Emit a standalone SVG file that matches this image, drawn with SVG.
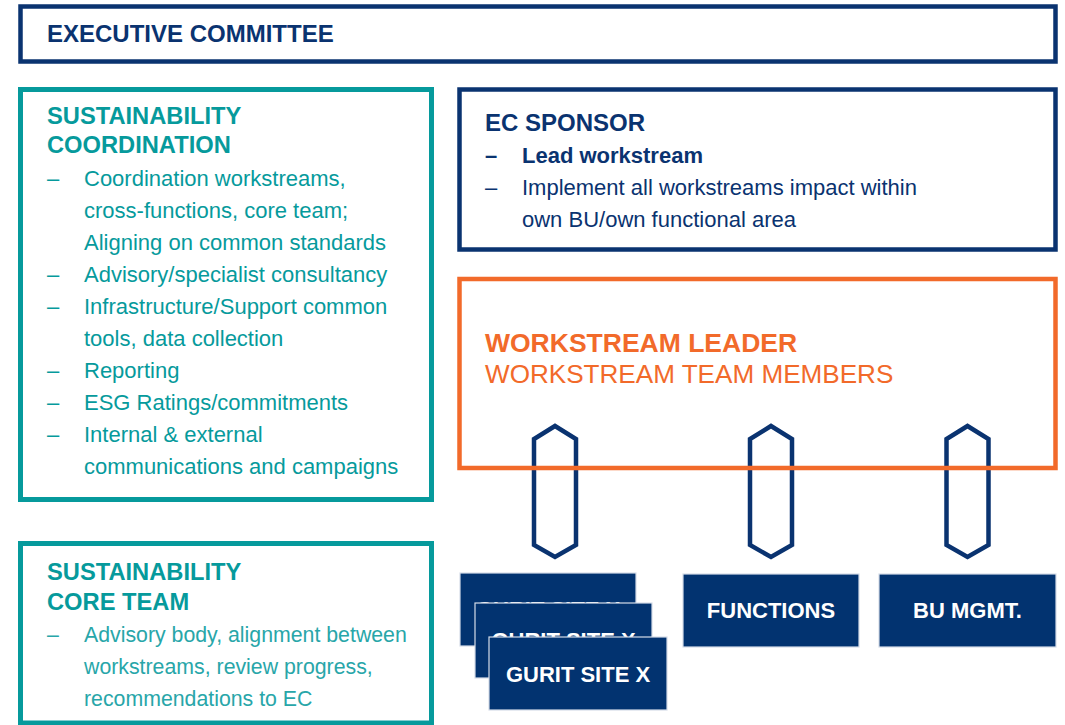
<svg xmlns="http://www.w3.org/2000/svg" width="1065" height="725" viewBox="0 0 1065 725">
<style>
.t{font-family:"Liberation Sans",Arial,Helvetica,sans-serif}
.b{font-weight:bold}
.navy{fill:#0a3370}
.teal{fill:#069a9c}
.teal2{fill:#28a6a9}
.orange{fill:#f26a2a}
.white{fill:#ffffff}
.box-navy{fill:none;stroke:#0a3370;stroke-width:4.5}
.box-teal{fill:none;stroke:#069a9c;stroke-width:5}
.box-orange{fill:none;stroke:#f26a2a;stroke-width:4.5}
.solid{fill:#023370;stroke:#d6dde8;stroke-width:1.2}
.hex{fill:none;stroke:#0a3370;stroke-width:4.5;stroke-linejoin:miter}
.h{font-size:23.7px}
.p{font-size:22px}
.p2{font-size:21.3px}
</style>
<rect width="1065" height="725" fill="#ffffff"/>

<g id="executive-committee">
<rect class="box-navy" x="20.5" y="6.5" width="1035" height="55"/>
<text class="t b navy" x="47" y="42" font-size="24">EXECUTIVE COMMITTEE</text>
</g>

<g id="sustainability-coordination">
<rect class="box-teal" x="20.5" y="89.5" width="411" height="410"/>
<text class="t b teal h" x="47" y="124">SUSTAINABILITY</text>
<text class="t b teal h" x="47" y="153">COORDINATION</text>
<g class="t teal p">
<text x="47" y="186">–</text><text x="84" y="186">Coordination workstreams,</text>
<text x="84" y="218">cross-functions, core team;</text>
<text x="84" y="250">Aligning on common standards</text>
<text x="47" y="282">–</text><text x="84" y="282">Advisory/specialist consultancy</text>
<text x="47" y="314">–</text><text x="84" y="314">Infrastructure/Support common</text>
<text x="84" y="346">tools, data collection</text>
<text x="47" y="378">–</text><text x="84" y="378">Reporting</text>
<text x="47" y="410">–</text><text x="84" y="410">ESG Ratings/commitments</text>
<text x="47" y="442">–</text><text x="84" y="442">Internal &amp; external</text>
<text x="84" y="474">communications and campaigns</text>
</g>
</g>

<g id="sustainability-core-team">
<rect class="box-teal" x="20.5" y="543.5" width="411" height="179.5"/>
<text class="t b teal h" x="47" y="580">SUSTAINABILITY</text>
<text class="t b teal h" x="47" y="610">CORE TEAM</text>
<g class="t teal2 p2">
<text x="47" y="642">–</text><text x="84" y="642">Advisory body, alignment between</text>
<text x="84" y="674">workstreams, review progress,</text>
<text x="84" y="706">recommendations to EC</text>
</g>
</g>

<g id="ec-sponsor">
<rect class="box-navy" x="459.5" y="89.5" width="596" height="160"/>
<text class="t b navy" x="485" y="131" font-size="24">EC SPONSOR</text>
<text class="t b navy p" x="485" y="163">–</text><text class="t b navy p" x="522" y="163">Lead workstream</text>
<text class="t navy p" x="485" y="195">–</text><text class="t navy p" x="522" y="195">Implement all workstreams impact within</text>
<text class="t navy p" x="522" y="227">own BU/own functional area</text>
</g>

<g id="connectors">
<path class="hex" d="M555,426 L576,439 L576,545 L555,557 L534,545 L534,439 Z"/>
<path class="hex" d="M771,426 L792,439 L792,545 L771,557 L750,545 L750,439 Z"/>
<path class="hex" d="M967.5,426 L988.5,439 L988.5,545 L967.5,557 L946.5,545 L946.5,439 Z"/>
</g>

<g id="workstream">
<rect class="box-orange" x="459.5" y="279" width="596" height="189"/>
<text class="t b orange" x="485" y="352" font-size="26.5">WORKSTREAM LEADER</text>
<text class="t orange" x="485" y="383" font-size="26.1">WORKSTREAM TEAM MEMBERS</text>
</g>

<g id="gurit-site-1">
<rect class="solid" x="460" y="573" width="176" height="73"/>
<text class="t b white" x="548" y="617" font-size="22" text-anchor="middle">GURIT SITE X</text>
</g>
<g id="gurit-site-2">
<rect class="solid" x="475" y="603" width="177" height="75"/>
<text class="t b white" x="563.5" y="648" font-size="22" text-anchor="middle">GURIT SITE X</text>
</g>
<g id="gurit-site-3">
<rect class="solid" x="489" y="637" width="178" height="73"/>
<text class="t b white" x="578" y="682" font-size="22" text-anchor="middle">GURIT SITE X</text>
</g>

<g id="functions">
<rect class="solid" x="683" y="574" width="176" height="73"/>
<text class="t b white" x="771" y="618" font-size="22" text-anchor="middle">FUNCTIONS</text>
</g>

<g id="bu-mgmt">
<rect class="solid" x="879" y="574" width="177" height="73"/>
<text class="t b white" x="967.5" y="618" font-size="22" text-anchor="middle">BU MGMT.</text>
</g>
</svg>
